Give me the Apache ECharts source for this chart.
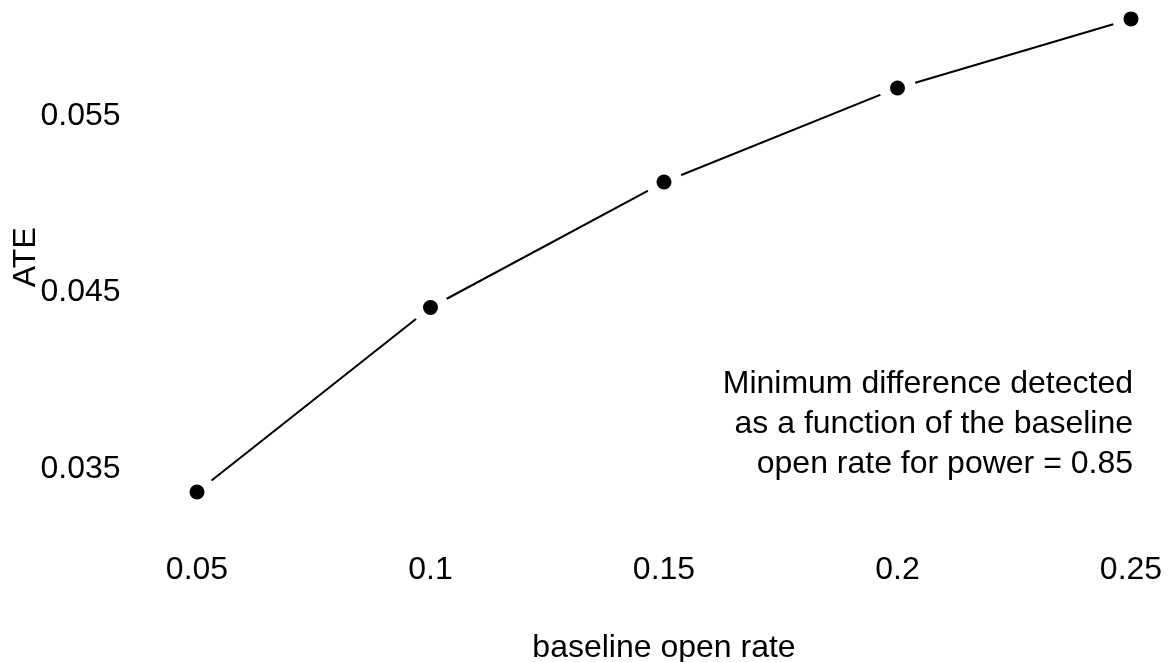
<!DOCTYPE html>
<html>
<head>
<meta charset="utf-8">
<script src="https://cdn.jsdelivr.net/npm/echarts@6/dist/echarts.min.js"></script>
<style>html,body{margin:0;padding:0;background:#fff}#c{width:1168px;height:662px}</style>
</head>
<body>
<div id="c"></div>
<script>
const baselineRate = [0.05, 0.10, 0.15, 0.20, 0.25];
const ate = [0.0337, 0.04415, 0.05126, 0.05659, 0.0605];
const xTicks = [0.05, 0.10, 0.15, 0.20, 0.25];
const yTicks = [0.035, 0.045, 0.055];
const noteLines = ['Minimum difference detected', 'as a function of the baseline', 'open rate for power = 0.85'];

const FONT = '"Liberation Sans", Arial, Helvetica, sans-serif';
const pts = baselineRate.map((x, i) => [x, ate[i]]);
const chart = echarts.init(document.getElementById('c'), null, {renderer: 'canvas'});
chart.setOption({
  backgroundColor: '#fff',
  animation: false,
  grid: {left: 173.65, right: 13.65, top: 10.1, bottom: 157.7, containLabel: false, outerBoundsMode: 'none'},
  xAxis: {
    type: 'value', min: 0.045, max: 0.255,
    name: 'baseline open rate', nameLocation: 'middle', nameGap: 128, nameMoveOverlap: false,
    nameTextStyle: {fontFamily: FONT, fontSize: 32, color: '#000'},
    axisLine: {show: false}, axisTick: {show: false}, splitLine: {show: false},
    axisLabel: {customValues: xTicks, margin: 50, fontFamily: FONT, fontSize: 32, color: '#000',
      formatter: v => String(+v.toFixed(3))}
  },
  yAxis: {
    type: 'value', min: 0.033, max: 0.061,
    name: 'ATE', nameLocation: 'middle', nameGap: 131, nameRotate: 90, nameMoveOverlap: false,
    nameTextStyle: {fontFamily: FONT, fontSize: 32, color: '#000'},
    axisLine: {show: false}, axisTick: {show: false}, splitLine: {show: false},
    axisLabel: {customValues: yTicks, margin: 53, fontFamily: FONT, fontSize: 32, color: '#000',
      formatter: v => String(+v.toFixed(3))}
  },
  series: [
    {
      type: 'line', data: pts, z: 2,
      lineStyle: {color: '#000', width: 2},
      symbol: 'circle', symbolSize: 37,
      itemStyle: {color: '#fff', borderWidth: 0, opacity: 1},
      emphasis: {disabled: true}, silent: true
    },
    {
      type: 'scatter', data: pts, z: 3,
      symbol: 'circle', symbolSize: 15,
      itemStyle: {color: '#000', opacity: 1},
      emphasis: {disabled: true}, silent: true
    }
  ],
  graphic: [{
    type: 'text', x: 1133, y: 364,
    style: {text: noteLines.join('\n'), align: 'right', verticalAlign: 'top',
      font: '32px ' + FONT, lineHeight: 40, fill: '#000'}
  }]
});
</script>
</body>
</html>
